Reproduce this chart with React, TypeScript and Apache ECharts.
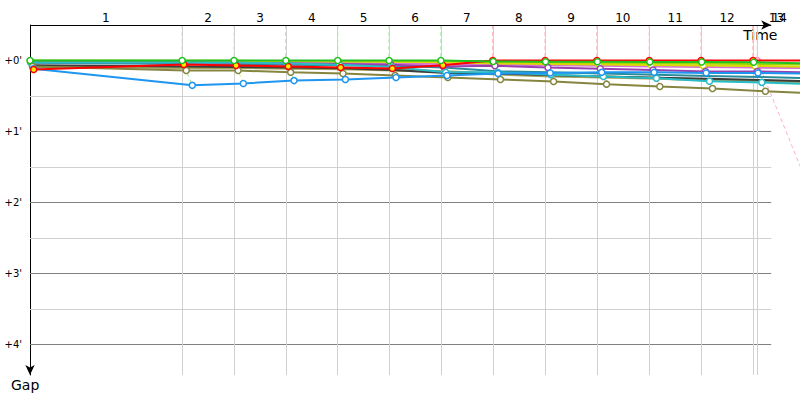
import React, { useEffect, useRef } from "react";
import * as echarts from "echarts";

// Leader's crossing times (s) at the end of each lap (index 0 = start)
const lapTimes = [0, 317, 425, 533, 641, 748, 856, 964, 1073, 1181, 1290, 1398, 1506, 1614];
const nowTime = 1515;
const nowGapEnd = 200; // s, projected gap line of the current lap
// Lap numbers shown on the top axis and where they are centred (s)
const lapLabels = ["1", "2", "3", "4", "5", "6", "7", "8", "9", "10", "11", "12", "13", "14"];
const lapLabelTimes = [158, 371, 479, 587, 695, 802, 910, 1018, 1127, 1235, 1344, 1452, 1555, 1561];
// Colour of each lap line (leader colour, lightened)
const lapLineColors = ["#90e890", "#e8e880", "#90e890", "#90e890", "#90e890", "#90e890", "#ffa0a8", "#ffa0a8", "#ffa0a8", "#ffa0a8", "#ffa0a8", "#ffa0a8"];
// Y axis
const yLabelValues = [0, 1, 2, 3, 4];
const yMajor = [0, 1, 2, 3, 4];
const yMinor = [0.5, 1.5, 2.5, 3.5];

// Gaps to the leader (seconds), index 0 = start, 1..13 = end of lap
const gapsMagenta = [0.5, 1, 1.2, 1.5, 2, 2.5, 3, 3.5, 4, 4.5, 5, 5.5, 6, 6.5];
const gapsLime = [0, 0.3, 0.3, 0.5, 0.6, 0.8, 1, 1.8, 2, 2.3, 2.5, 2.8, 3, 3.5];
const gapsTeal = [2, 3, 3.2, 3.5, 4, 4.5, 6, 9, 10, 11, 12, 13, 14, 15];
const gapsKhaki = [5, 6, 6, 6.5, 7, 8, 9.5, 11.5, 13, 14, 15, 16.5, 17.5, 18.5];
const gapsDark = [4, 5, 5.5, 6, 6.5, 8, 10.5, 11, 12.5, 13.5, 14.5, 15.5, 16.5, 17.5];
const gapsYellow = [0.5, 0.5, 0.5, 0.5, 0.8, 1, 1.5, 2.5, 3, 3.3, 3.8, 4.2, 4.6, 5.5];
const gapsPurple = [1.5, 1.5, 2, 2.5, 3, 3.5, 5, 4.5, 6, 7, 8, 9.3, 9.3, 10];
const gapsCyan = [1.7, 1.5, 1.7, 2.5, 3.5, 5.5, 10, 10, 12, 13.5, 15, 17.5, 18.5, 20];
const gapsOlive = [5, 8.5, 8.5, 10, 11, 12.7, 14.4, 16, 17.7, 20, 22, 23.7, 26, 28];
const gapsBlue = [7, 21, 19.4, 17, 16, 14.4, 12.7, 11, 10.5, 10, 10, 10.5, 10.5, 11];
const gapsRed = [7.6, 3.4, 4.2, 5, 5.9, 6.8, 4, 0, 0, 0, 0, 0, 0, 0];
const gapsGreen = [0, 0, 0, 0, 0, 0, 0, 0.8, 1, 1, 1.2, 1.3, 1.5, 2.5];

type Driver = { name: string; color: string; gaps: number[]; marked: boolean; fill?: string; width?: number };
const drivers: Driver[] = [
  { name: "magenta", color: "#d870d8", gaps: gapsMagenta, marked: false },
  { name: "lime", color: "#9ad800", gaps: gapsLime, marked: false },
  { name: "teal", color: "#2a8c9a", gaps: gapsTeal, marked: false },
  { name: "khaki", color: "#a3a35c", gaps: gapsKhaki, marked: false, width: 3 },
  { name: "dark", color: "#3c3c3c", gaps: gapsDark, marked: false },
  { name: "yellow", color: "#d8d800", gaps: gapsYellow, marked: true },
  { name: "purple", color: "#9840b0", gaps: gapsPurple, marked: true },
  { name: "cyan", color: "#28bcc8", gaps: gapsCyan, marked: true },
  { name: "olive", color: "#858540", gaps: gapsOlive, marked: true },
  { name: "blue", color: "#1e96f0", gaps: gapsBlue, marked: true },
  { name: "red", color: "#ff0000", gaps: gapsRed, marked: true, fill: "#ffee00" },
  { name: "green", color: "#20c020", gaps: gapsGreen, marked: true },
];

const X_AXIS_END = 1544; // end of the drawn time axis (s)
const X_VIEW = 1604; // visible time range up to the right edge (s)
const Y_MIN = -0.5;
const Y_MAX = 4.43;
const FONT = "DejaVu Sans";

export default function App() {
  const ref = useRef<HTMLDivElement>(null);
  useEffect(() => {
    if (!ref.current) return;
    const chart = echarts.init(ref.current, undefined, { renderer: "svg" });

    const hLine = (v: number, color: string) => [
      { coord: [0, v], lineStyle: { color, width: 1, type: "solid" } },
      { coord: [X_AXIS_END, v] },
    ];
    const series: any[] = [];
    // grid lines
    series.push({
      type: "line",
      data: [],
      silent: true,
      z: 1,
      markLine: {
        silent: true,
        symbol: "none",
        label: { show: false },
        animation: false,
        data: [
          ...yMinor.map((v) => hLine(v, "#d0d0d0")),
          ...yMajor.map((v) => hLine(v, "#808080")),
          ...lapTimes.slice(1, 13).map((t) => ({ xAxis: t, lineStyle: { color: "#d0d0d0", width: 1, type: "solid" } })),
          { xAxis: nowTime, lineStyle: { color: "#d0d0d0", width: 1, type: "solid" } },
        ],
      },
    });
    // top time axis with arrow
    series.push({
      type: "line",
      data: [],
      silent: true,
      z: 20,
      markLine: {
        silent: true,
        symbol: ["none", "arrow"],
        symbolSize: [7, 10],
        label: { show: false },
        animation: false,
        lineStyle: { color: "#000", width: 1, type: "solid" },
        data: [[{ coord: [0, Y_MIN] }, { coord: [X_AXIS_END, Y_MIN] }]],
      },
    });
    // lap lines
    for (let lap = 1; lap <= 12; lap++) {
      const pts = drivers
        .filter((d) => d.marked)
        .map((d) => d.gaps[lap])
        .sort((a, b) => a - b)
        .map((g) => [lapTimes[lap] + g, g / 60]);
      series.push({
        type: "line",
        silent: true,
        symbol: "none",
        z: 2,
        data: [[lapTimes[lap], Y_MIN], ...pts],
        lineStyle: { color: lapLineColors[lap - 1], width: 1, type: [4, 3] },
      });
    }
    // current lap line
    series.push({
      type: "line",
      silent: true,
      z: 2,
      clip: false,
      symbol: "none",
      data: [
        [nowTime, Y_MIN],
        { value: [nowTime, 0], symbol: "circle", symbolSize: 6, itemStyle: { color: "#fff", borderColor: "#ff90b8", borderWidth: 1.5 } },
        [nowTime + nowGapEnd, nowGapEnd / 60],
      ],
      lineStyle: { color: "#ffb0c8", width: 1, type: [4, 3] },
    });
    // drivers
    drivers.forEach((d, i) => {
      series.push({
        type: "line",
        name: d.name,
        silent: true,
        clip: true,
        z: 3 + i,
        data: d.gaps.map((g, k) => [lapTimes[k] + g, g / 60]),
        symbol: d.marked ? "circle" : "none",
        showSymbol: d.marked,
        showAllSymbol: true,
        symbolSize: 6,
        itemStyle: { color: d.fill || "#ffffff", borderColor: d.color, borderWidth: 1.5 },
        lineStyle: { color: d.color, width: d.width || 2 },
      });
    });

    chart.setOption({
      animation: false,
      grid: { left: 30, right: 0, top: 25, bottom: 25 },
      xAxis: {
        type: "value",
        position: "top",
        min: 0,
        max: X_VIEW,
        axisLine: { show: false, onZero: false },
        axisTick: { show: false },
        axisLabel: { show: false },
        splitLine: { show: false },
      },
      yAxis: {
        type: "value",
        inverse: true,
        min: Y_MIN,
        max: Y_MAX,
        axisLine: { show: true, onZero: false, lineStyle: { color: "#000", width: 1 }, symbol: ["arrow", "none"], symbolSize: [7, 10] },
        axisTick: { show: false },
        axisLabel: {
          customValues: yLabelValues,
          formatter: (v: number) => "+" + v + "'",
          fontSize: 10,
          color: "#000",
          margin: 8,
          fontFamily: FONT,
        },
        splitLine: { show: false },
      },
      series,
    });

    const top = chart.convertToPixel({ gridIndex: 0 }, [0, Y_MIN]) as number[];
    const end = chart.convertToPixel({ gridIndex: 0 }, [X_AXIS_END, Y_MAX]) as number[];
    const graphic: any[] = lapLabels.map((lab, i) => {
      const p = chart.convertToPixel({ gridIndex: 0 }, [lapLabelTimes[i], Y_MIN]) as number[];
      return {
        type: "text",
        x: p[0],
        y: p[1] - 7,
        silent: true,
        style: { text: lab, fill: "#000", font: `12px "${FONT}"`, textAlign: "center", textVerticalAlign: "middle" },
      };
    });
    graphic.push({
      type: "text",
      x: end[0] - 28,
      y: top[1] + 10,
      silent: true,
      style: { text: "Time", fill: "#000", font: `14px "${FONT}"`, textAlign: "left", textVerticalAlign: "middle" },
    });
    graphic.push({
      type: "text",
      x: top[0] - 19,
      y: end[1] + 10,
      silent: true,
      style: { text: "Gap", fill: "#000", font: `14px "${FONT}"`, textAlign: "left", textVerticalAlign: "middle" },
    });
    chart.setOption({ graphic });

    return () => chart.dispose();
  }, []);
  return <div ref={ref} style={{ width: 800, height: 400, position: "fixed", left: 0, top: 0, background: "#fff" }} />;
}
